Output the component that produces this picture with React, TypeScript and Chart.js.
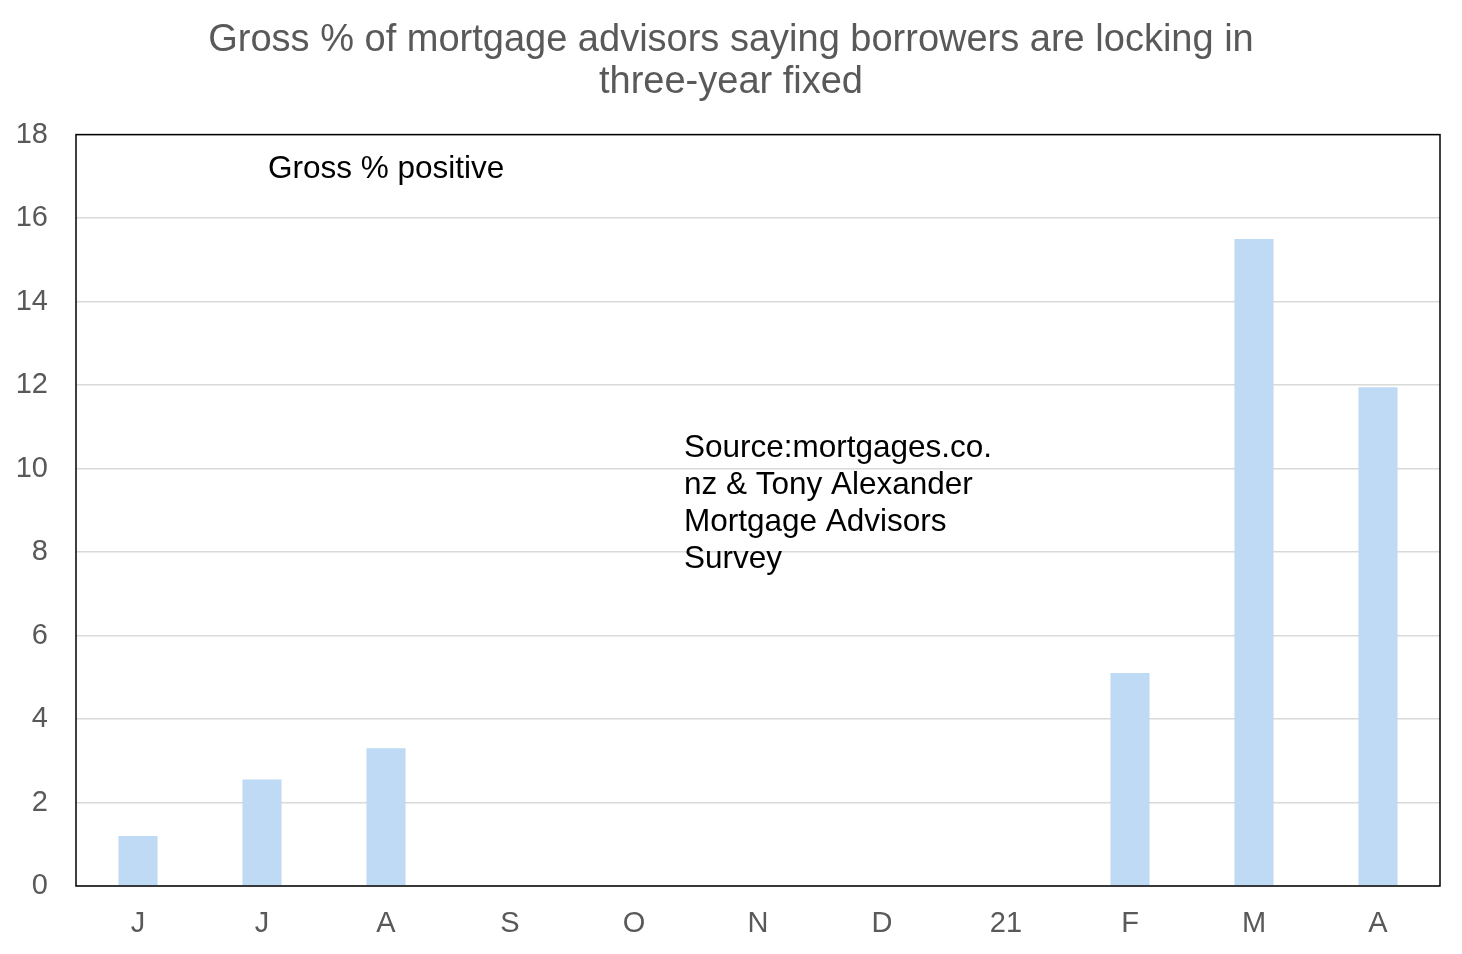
import React, { useEffect, useRef } from 'react';
import { Chart, ChartConfiguration, Plugin, registerables } from 'chart.js';

Chart.register(...registerables);

// months Jun 2020 .. Apr 2021
const months = ['J', 'J', 'A', 'S', 'O', 'N', 'D', '21', 'F', 'M', 'A'];
const grossPositive = [1.2, 2.55, 3.3, null, null, null, null, null, 5.1, 15.5, 11.95];
const yTicks = [0, 2, 4, 6, 8, 10, 12, 14, 16, 18];

const titleLines = [
  'Gross % of mortgage advisors saying borrowers are locking in',
  'three-year fixed',
];
const seriesLabel = 'Gross % positive';
const sourceLines = [
  'Source:mortgages.co.',
  'nz & Tony Alexander',
  'Mortgage Advisors',
  'Survey',
];

const FONT = "Arial, 'Liberation Sans', sans-serif";

// border around the plot area plus the two text boxes
const notesPlugin: Plugin<'bar'> = {
  id: 'notes',
  afterDraw(chart) {
    const { ctx, chartArea } = chart;
    const yScale = chart.scales.y;
    const w = chartArea.right - chartArea.left;
    ctx.save();
    ctx.strokeStyle = '#000000';
    ctx.lineWidth = 1.5;
    ctx.strokeRect(chartArea.left, chartArea.top, w, chartArea.bottom - chartArea.top);

    ctx.fillStyle = '#000000';
    ctx.font = `31.5px ${FONT}`;
    ctx.textAlign = 'left';
    ctx.textBaseline = 'middle';
    ctx.fillText(seriesLabel, chartArea.left + w * 0.1408, yScale.getPixelForValue(17.16));

    const sx = chartArea.left + w * 0.4457;
    const sy = yScale.getPixelForValue(10.49);
    sourceLines.forEach((line, i) => {
      ctx.fillText(line, sx, sy + i * 37);
    });
    ctx.restore();
  },
};

const GrossPositiveChart: React.FC = () => {
  const chartRef = useRef<HTMLCanvasElement | null>(null);
  const chartInstance = useRef<Chart | null>(null);

  useEffect(() => {
    if (!chartRef.current) return;
    const ctx = chartRef.current.getContext('2d');
    if (!ctx) return;
    if (chartInstance.current) chartInstance.current.destroy();

    const config: ChartConfiguration<'bar'> = {
      type: 'bar',
      data: {
        labels: months,
        datasets: [
          {
            label: seriesLabel,
            data: grossPositive as number[],
            backgroundColor: '#bfdaf4',
            borderWidth: 0,
            categoryPercentage: 1,
            barPercentage: 0.315,
          },
        ],
      },
      options: {
        animation: false,
        responsive: true,
        maintainAspectRatio: false,
        layout: { padding: 0 },
        scales: {
          x: {
            grid: { display: false, drawTicks: false },
            border: { display: false },
            ticks: {
              color: '#595959',
              font: { family: FONT, size: 29 },
              padding: 21,
              maxRotation: 0,
              autoSkip: false,
            },
            afterFit: (s) => {
              s.height = 68;
            },
          },
          y: {
            min: 0,
            max: 18,
            afterBuildTicks: (s) => {
              s.ticks = yTicks.map((v) => ({ value: v }));
            },
            grid: { color: '#d9d9d9', lineWidth: 1.5, drawTicks: false },
            border: { display: false },
            ticks: {
              color: '#595959',
              font: { family: FONT, size: 29 },
              padding: 28,
            },
            afterFit: (s) => {
              s.width = 76;
            },
          },
          // empty right margin so the title centres on the whole canvas
          yRight: {
            position: 'right',
            min: 0,
            max: 18,
            grid: { display: false, drawTicks: false },
            border: { display: false },
            ticks: { display: false },
            afterFit: (s) => {
              s.width = 22;
            },
          },
        },
        plugins: {
          legend: { display: false },
          tooltip: { enabled: false },
          title: {
            display: true,
            text: titleLines,
            color: '#595959',
            font: { family: FONT, size: 38, weight: 'normal', lineHeight: 1.1 },
            padding: { top: 20, bottom: 31 },
          },
        },
      },
      plugins: [notesPlugin],
    };

    chartInstance.current = new Chart(ctx, config);

    return () => {
      if (chartInstance.current) {
        chartInstance.current.destroy();
        chartInstance.current = null;
      }
    };
  }, []);

  return (
    <div style={{ position: 'absolute', left: 0, top: 0, width: 1462, height: 954, background: '#fff' }}>
      <canvas ref={chartRef} />
    </div>
  );
};

export default function App() {
  return <GrossPositiveChart />;
}
